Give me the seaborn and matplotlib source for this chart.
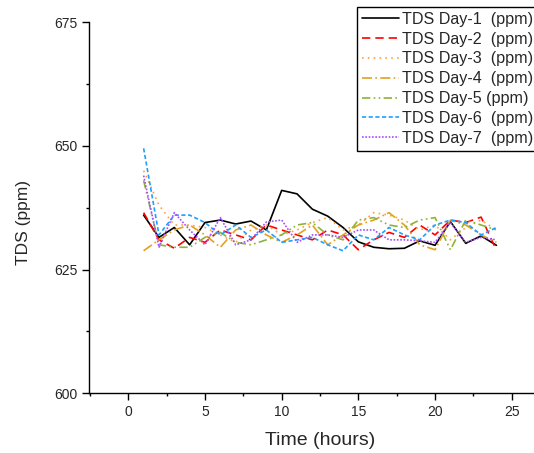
import numpy as np
import pandas as pd
import matplotlib
matplotlib.use("Agg")
import matplotlib.pyplot as plt
from matplotlib.ticker import MultipleLocator
import seaborn as sns

# data
hours = list(range(1, 25))
series_names = ["TDS Day-1  (ppm)", "TDS Day-2  (ppm)", "TDS Day-3  (ppm)", "TDS Day-4  (ppm)",
                "TDS Day-5 (ppm)", "TDS Day-6  (ppm)", "TDS Day-7  (ppm)"]

day1 = [636.0, 631.5, 633.5, 630.0, 634.5, 635.0, 634.2, 634.8, 633.0, 641.0, 640.3, 637.2,
        635.8, 633.5, 630.6, 629.5, 629.2, 629.3, 630.8, 629.9, 634.7, 630.3, 631.8, 629.9]
day2 = [636.5, 631.0, 629.3, 631.5, 630.5, 633.0, 632.0, 631.0, 634.0, 633.0, 632.0, 631.0,
        633.0, 632.0, 629.0, 631.0, 632.5, 631.5, 634.0, 632.0, 635.0, 634.5, 635.6, 628.9]
day3 = [645.0, 638.0, 634.0, 634.0, 633.5, 632.0, 630.5, 633.0, 634.0, 632.0, 633.0, 634.5,
        635.5, 633.0, 634.0, 636.5, 636.0, 635.0, 633.0, 634.0, 631.0, 633.5, 635.0, 633.0]
day4 = [628.8, 631.0, 633.0, 634.0, 632.0, 629.5, 633.0, 634.0, 632.0, 630.5, 632.0, 634.0,
        630.0, 632.0, 634.0, 635.0, 636.5, 634.0, 630.0, 629.0, 635.0, 634.0, 632.0, 630.5]
day5 = [643.0, 630.0, 629.5, 629.5, 631.5, 632.5, 630.5, 630.0, 631.0, 632.0, 634.0, 634.5,
        632.0, 631.0, 635.0, 635.5, 634.0, 633.5, 635.0, 635.5, 629.0, 635.0, 634.0, 633.0]
day6 = [649.5, 632.0, 636.0, 636.0, 634.5, 632.0, 634.0, 631.5, 633.0, 630.5, 631.0, 631.5,
        630.0, 628.8, 632.0, 631.0, 633.5, 632.0, 631.0, 634.0, 635.0, 634.5, 632.0, 633.5]
day7 = [644.0, 629.5, 636.5, 633.0, 630.0, 635.5, 630.0, 631.0, 634.6, 635.0, 630.5, 632.0,
        632.0, 631.5, 633.0, 633.0, 631.0, 631.0, 630.8, 630.5, 634.5, 630.5, 631.5, 631.0]

values = [day1, day2, day3, day4, day5, day6, day7]

colors = ["#000000", "#FF0000", "#FFA040", "#E2A11E", "#8DB33A", "#1EA0FF", "#A64DFF"]
dashes = ["", (5, 3), (1, 2.5), (6, 2, 1, 2), (5, 2, 1, 2, 1, 2), (2.5, 1.5), (1, 1)]

df = pd.DataFrame({
    "Time": hours * len(series_names),
    "TDS": np.concatenate(values),
    "Series": np.repeat(series_names, len(hours)),
})

sns.set_style("ticks")
plt.rcParams["font.family"] = ["Liberation Sans", "DejaVu Sans"]

fig = plt.figure(figsize=(5.34, 4.53), dpi=100)
ax = fig.add_axes([0.167, 0.132, 0.833, 0.819])

sns.lineplot(data=df, x="Time", y="TDS", hue="Series", style="Series",
             palette=dict(zip(series_names, colors)),
             dashes=dict(zip(series_names, dashes)),
             linewidth=1.2, ax=ax)

ax.set_xlim(-2.55, 26.45)
ax.set_ylim(600, 675)
ax.xaxis.set_major_locator(MultipleLocator(5))
ax.xaxis.set_minor_locator(MultipleLocator(2.5))
ax.yaxis.set_major_locator(MultipleLocator(25))
ax.yaxis.set_minor_locator(MultipleLocator(12.5))
ax.tick_params(which="major", direction="out", length=5, width=1, labelsize=10, color="black")
ax.tick_params(which="minor", direction="out", length=2.5, width=1, color="black")
for s in ["top", "right"]:
    ax.spines[s].set_visible(False)
for s in ["left", "bottom"]:
    ax.spines[s].set_color("black")
    ax.spines[s].set_linewidth(1)

ax.set_xlabel("Time (hours)", fontsize=14)
ax.set_ylabel("TDS (ppm)", fontsize=12.5)
ax.xaxis.set_label_coords(0.52, -0.105)
ax.yaxis.set_label_coords(-0.13, 0.46)

handles, labels = ax.get_legend_handles_labels()
ax.get_legend().remove()
leg = fig.legend(handles, labels, loc="upper right", bbox_to_anchor=(1.008, 1 - 7 / 453),
                 bbox_transform=fig.transFigure, fontsize=11.6, frameon=True, fancybox=False,
                 framealpha=1, edgecolor="black", handlelength=2.3, handletextpad=0.2,
                 labelspacing=0.3, borderpad=0.3, borderaxespad=0)
leg.get_frame().set_linewidth(1)

fig.savefig("out.png", dpi=100)
